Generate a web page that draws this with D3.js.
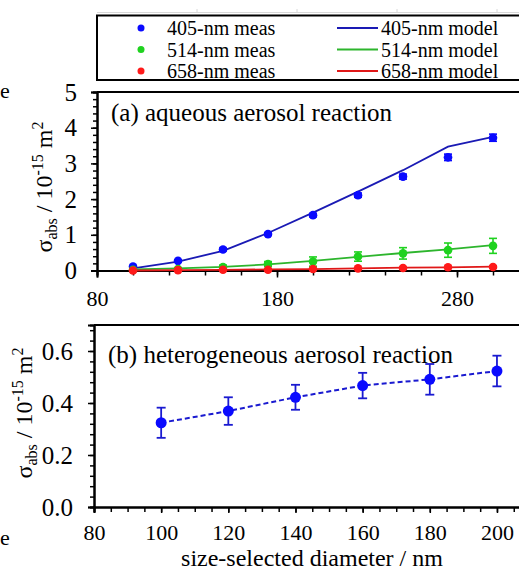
<!DOCTYPE html>
<html><head><meta charset="utf-8">
<script src="https://cdn.jsdelivr.net/npm/d3@7"></script>
<style>
body{margin:0;background:#fff;}
svg, svg text{font-family:"Liberation Serif","Times New Roman",Times,"DejaVu Serif",serif !important;}
</style></head>
<body><svg id="c" width="519" height="571"></svg>
<script>
// ---- data ----
const diamA = [100,125,150,175,200,225,250,275,300];
const meas405 = [0.11,0.27,0.59,1.02,1.55,2.11,2.63,3.17,3.72];
const err405  = [0.03,0.03,0.04,0.04,0.05,0.06,0.07,0.09,0.10];
const model405= [0.06,0.25,0.55,1.05,1.62,2.21,2.81,3.47,3.74];
const meas514 = [0.02,0.04,0.10,0.18,0.25,0.39,0.48,0.57,0.69];
const err514  = [0.02,0.03,0.05,0.07,0.13,0.13,0.16,0.20,0.21];
const model514= [0.03,0.06,0.10,0.17,0.27,0.38,0.49,0.59,0.71];
const meas658 = [0.00,0.01,0.02,0.02,0.04,0.06,0.07,0.09,0.10];
const err658  = [0.01,0.01,0.01,0.01,0.02,0.02,0.02,0.03,0.03];
const model658= [0.00,0.01,0.02,0.03,0.04,0.06,0.08,0.09,0.11];
const diamB = [100,120,140,160,180,200];
const measB = [0.324,0.369,0.422,0.467,0.491,0.523];
const errB  = [0.058,0.053,0.048,0.049,0.059,0.059];
const ticksAx = [80,180,280];
const ticksAy = [0,1,2,3,4,5];
const ticksBx = [80,100,120,140,160,180,200];
const ticksBy = [0,0.2,0.4,0.6];
const legendMeas = ["405-nm meas","514-nm meas","658-nm meas"];
const legendModel = ["405-nm model","514-nm model","658-nm model"];

const FONT = '"Liberation Serif","Times New Roman",Times,serif';
const svg = d3.select("#c");
const colPt = ["#0a0aff","#1fd21f","#ff1a1a"];
const colLn = ["#1a1ab4","#2db52d","#e01818"];

// ---- legend ----
svg.append("line").attr("x1",97).attr("x2",519).attr("y1",12.5).attr("y2",12.5).attr("stroke","#d8d8d8");
[197,297,397,497].forEach(x=>svg.append("line").attr("x1",x).attr("x2",x).attr("y1",9).attr("y2",12.5).attr("stroke","#d8d8d8"));
svg.append("rect").attr("x",97).attr("y",15.5).attr("width",450).attr("height",64.5).attr("fill","none").attr("stroke","#000").attr("stroke-width",2);
const rowsY = [28,49.5,71];
legendMeas.forEach((t,i)=>{
  svg.append("circle").attr("cx",141).attr("cy",rowsY[i]).attr("r",3.5).attr("fill",colPt[i]);
  svg.append("text").attr("x",167).attr("y",rowsY[i]).attr("dy","0.35em").attr("font-size",20).text(t);
});
legendModel.forEach((t,i)=>{
  svg.append("line").attr("x1",337).attr("x2",378).attr("y1",rowsY[i]).attr("y2",rowsY[i]).attr("stroke",colLn[i]).attr("stroke-width",1.8);
  svg.append("text").attr("x",381).attr("y",rowsY[i]).attr("dy","0.35em").attr("font-size",20).text(t);
});

// ---- panel a ----
const xA = d3.scaleLinear().domain([80,320]).range([97,529]);
const yA = d3.scaleLinear().domain([0,5]).range([270.5,92]);
const gA = svg.append("g");
gA.append("line").attr("x1",xA(80)).attr("x2",519).attr("y1",yA(5)).attr("y2",yA(5)).attr("stroke","#000").attr("stroke-width",2);
gA.append("g").attr("transform",`translate(0,${yA(0)})`).call(d3.axisBottom(xA).tickValues(d3.range(80,320,20)).tickSize(5).tickFormat(""));
gA.append("g").attr("class","xl").attr("transform",`translate(0,${yA(0)})`).call(d3.axisBottom(xA).tickValues(ticksAx).tickSize(7).tickFormat(d=>d).tickPadding(13));
gA.append("g").attr("transform",`translate(${xA(80)},0)`).call(d3.axisLeft(yA).tickValues(d3.range(0,5.01,0.2)).tickSize(4).tickFormat(""));
gA.append("g").attr("class","yl").attr("transform",`translate(${xA(80)},0)`).call(d3.axisLeft(yA).tickValues(ticksAy).tickSize(6).tickFormat(d=>d).tickPadding(14));

const seriesA = [[meas405,err405,model405],[meas514,err514,model514],[meas658,err658,model658]];
const line = d3.line();
seriesA.forEach(([m,e,mod],i)=>{
  gA.append("path").attr("d",line(diamA.map((d,j)=>[xA(d),yA(mod[j])]))).attr("fill","none").attr("stroke",colLn[i]).attr("stroke-width",1.8);
});
seriesA.forEach(([m,e,mod],i)=>{
  const g = gA.append("g").attr("stroke",colPt[i]).attr("stroke-width",1.6);
  diamA.forEach((d,j)=>{
    const x=xA(d), y1=yA(m[j]+e[j]), y2=yA(Math.max(0,m[j]-e[j]));
    g.append("line").attr("x1",x).attr("x2",x).attr("y1",y1).attr("y2",y2);
    g.append("line").attr("x1",x-4).attr("x2",x+4).attr("y1",y1).attr("y2",y1);
    g.append("line").attr("x1",x-4).attr("x2",x+4).attr("y1",y2).attr("y2",y2);
  });
  gA.append("g").selectAll("circle").data(diamA).join("circle")
    .attr("cx",d=>xA(d)).attr("cy",(d,j)=>yA(m[j])).attr("r",4.3).attr("fill",colPt[i]);
});
gA.append("text").attr("x",111).attr("y",121).attr("font-size",25).text("(a) aqueous aerosol reaction");
function yTitle(g, cx, cy){
  const t = g.append("text").attr("transform",`translate(${cx},${cy}) rotate(-90)`).attr("text-anchor","middle").attr("font-size",24);
  t.append("tspan").text("σ");
  t.append("tspan").attr("font-size",16).attr("dy",5).text("abs");
  t.append("tspan").attr("dy",-5).text(" / 10");
  t.append("tspan").attr("font-size",16).attr("dy",-9).text("-15");
  t.append("tspan").attr("dy",9).text(" m");
  t.append("tspan").attr("font-size",16).attr("dy",-9).text("2");
}
yTitle(gA, 52, 187);

// ---- panel b ----
const xB = d3.scaleLinear().domain([80,210]).range([94,94+130*3.358]);
const yB = d3.scaleLinear().domain([0,0.7]).range([507,325]);
const gB = svg.append("g");
gB.append("line").attr("x1",xB(80)).attr("x2",519).attr("y1",yB(0.7)).attr("y2",yB(0.7)).attr("stroke","#000").attr("stroke-width",2);
gB.append("g").attr("transform",`translate(0,${yB(0)})`).call(d3.axisBottom(xB).tickValues(d3.range(80,210,5)).tickSize(5).tickFormat(""));
gB.append("g").attr("class","xl xb").attr("transform",`translate(0,${yB(0)})`).call(d3.axisBottom(xB).tickValues(ticksBx).tickSize(6).tickFormat(d=>d).tickPadding(11));
gB.append("g").attr("transform",`translate(${xB(80)},0)`).call(d3.axisLeft(yB).tickValues(d3.range(0,0.7,0.04)).tickSize(4).tickFormat(""));
gB.append("g").attr("class","yl").attr("transform",`translate(${xB(80)},0)`).call(d3.axisLeft(yB).tickValues(ticksBy).tickSize(6).tickFormat(d3.format(".1f")).tickPadding(15));

gB.append("path").attr("d",line(diamB.map((d,j)=>[xB(d),yB(measB[j])]))).attr("fill","none").attr("stroke","#1a1ad0").attr("stroke-width",2).attr("stroke-dasharray","5,3");
const gEb = gB.append("g").attr("stroke","#1a1ad0").attr("stroke-width",1.8);
diamB.forEach((d,j)=>{
  const x=xB(d), y1=yB(measB[j]+errB[j]), y2=yB(measB[j]-errB[j]);
  gEb.append("line").attr("x1",x).attr("x2",x).attr("y1",y1).attr("y2",y2);
  gEb.append("line").attr("x1",x-4.5).attr("x2",x+4.5).attr("y1",y1).attr("y2",y1);
  gEb.append("line").attr("x1",x-4.5).attr("x2",x+4.5).attr("y1",y2).attr("y2",y2);
});
gB.append("g").selectAll("circle").data(diamB).join("circle")
  .attr("cx",d=>xB(d)).attr("cy",(d,j)=>yB(measB[j])).attr("r",5.5).attr("fill","#0a0aff");
gB.append("text").attr("x",108).attr("y",363).attr("font-size",25).text("(b) heterogeneous aerosol reaction");
gB.append("text").attr("x",312).attr("y",566).attr("text-anchor","middle").attr("font-size",24).text("size-selected diameter / nm");
yTitle(gB, 32, 413);

// stray glyphs at left edge (cropped in source)
svg.append("text").attr("x",0).attr("y",98).attr("font-size",22).text("e");
svg.append("text").attr("x",0).attr("y",545).attr("font-size",22).text("e");

// style axes
svg.selectAll(".domain").attr("stroke","#000").attr("stroke-width",2);
svg.selectAll(".tick line").attr("stroke","#000").attr("stroke-width",1.5);
svg.selectAll("g").attr("font-family",FONT);
svg.selectAll(".xl .tick text").attr("font-size",22).attr("fill","#000");
svg.selectAll(".yl .tick text").attr("font-size",25).attr("fill","#000");
svg.selectAll("text").attr("font-family",FONT);
</script></body></html>
